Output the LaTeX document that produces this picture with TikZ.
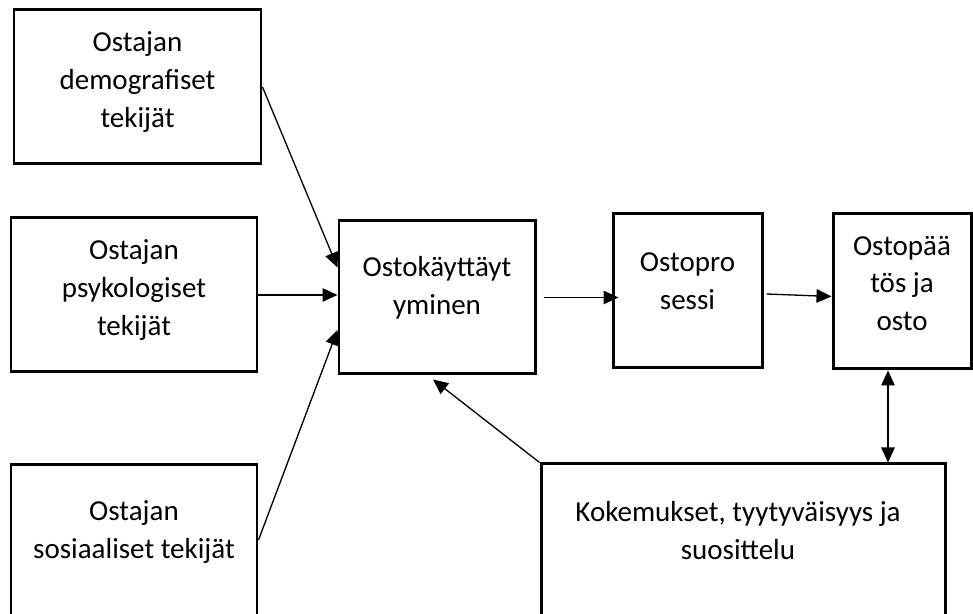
\documentclass[tikz,border=0pt]{standalone}
\usepackage{fontspec}
\setmainfont{Carlito}
\usetikzlibrary{arrows.meta}

\begin{document}
\begin{tikzpicture}[
    boxnode/.style={
      rectangle, draw=black, line width=1.7pt, inner sep=0pt
    },
    boxtext/.style={
      align=center, inner sep=0pt, font=\fontsize{16.5}{21.6}\selectfont
    },
    arr/.style={-{Triangle[length=0.3cm, width=0.27cm]}, line width=0.75pt},
    dblarr/.style={{Triangle[length=0.3cm, width=0.27cm]}-{Triangle[length=0.3cm, width=0.27cm]}, line width=0.75pt},
]

\useasboundingbox (0,0) rectangle (19.46,12.28);
\clip (0,0) rectangle (19.46,12.28);

% ===== BUYER FACTORS (left column) =====
\node[boxnode, minimum width=4.94cm, minimum height=3.08cm,
  label={[boxtext, yshift=0.1cm]center:{Ostajan\\demografiset\\tekijät}}] (demo) at (2.75, 10.54) {};
\node[boxnode, minimum width=4.92cm, minimum height=3.08cm,
  label={[boxtext, yshift=0.1cm]center:{Ostajan\\psykologiset\\tekijät}}] (psyk) at (2.68, 6.38) {};
\node[boxnode, minimum width=4.92cm, minimum height=3.44cm,
  label={[boxtext, yshift=0.38cm]center:{Ostajan\\sosiaaliset tekijät}}] (sos) at (2.68, 1.26) {};

% ===== BUYING CHAIN =====
\node[boxnode, minimum width=3.92cm, minimum height=3.06cm,
  label={[boxtext, yshift=0.2cm]center:{Ostokäyttäyt\\yminen}}] (kayt) at (8.74, 6.33) {};
\node[boxnode, minimum width=2.98cm, minimum height=3.08cm,
  label={[boxtext, yshift=0.2cm]center:{Ostopro\\sessi}}] (proses) at (13.75, 6.46) {};
\node[boxnode, minimum width=2.76cm, minimum height=3.10cm,
  label={[boxtext, yshift=0.16cm]center:{Ostopää\\tös ja\\osto}}] (paatos) at (18.04, 6.45) {};

% ===== EXPERIENCE =====
\node[boxnode, minimum width=8.08cm, minimum height=3.44cm,
  label={[boxtext, xshift=-0.1cm, yshift=0.38cm]center:{Kokemukset, tyytyväisyys ja\\suosittelu}}] (kokem) at (14.86, 1.28) {};

% ===== FACTORS -> BEHAVIOUR =====
\draw[arr] (demo.east) -- ([yshift=0.6cm]kayt.west);
\draw[arr] (psyk.east) -- (psyk.east -| kayt.west);
\draw[arr] ([yshift=0.22cm]sos.east) -- ([yshift=-0.65cm]kayt.west);

% ===== CHAIN ARROWS =====
\draw[arr] ([xshift=0.14cm]kayt.east) -- ([xshift=0.14cm]kayt.east -| proses.west);
\draw[arr] ([xshift=0.06cm, yshift=-0.06cm]proses.east) -- ([yshift=-0.1cm]paatos.west);

% ===== FEEDBACK =====
\draw[arr] (kokem.north west) -- ([xshift=-0.08cm, yshift=-0.08cm]kayt.south);
\draw[dblarr] ([xshift=-0.28cm]paatos.south) -- ([xshift=-0.28cm]paatos.south |- kokem.north);

\end{tikzpicture}
\end{document}
